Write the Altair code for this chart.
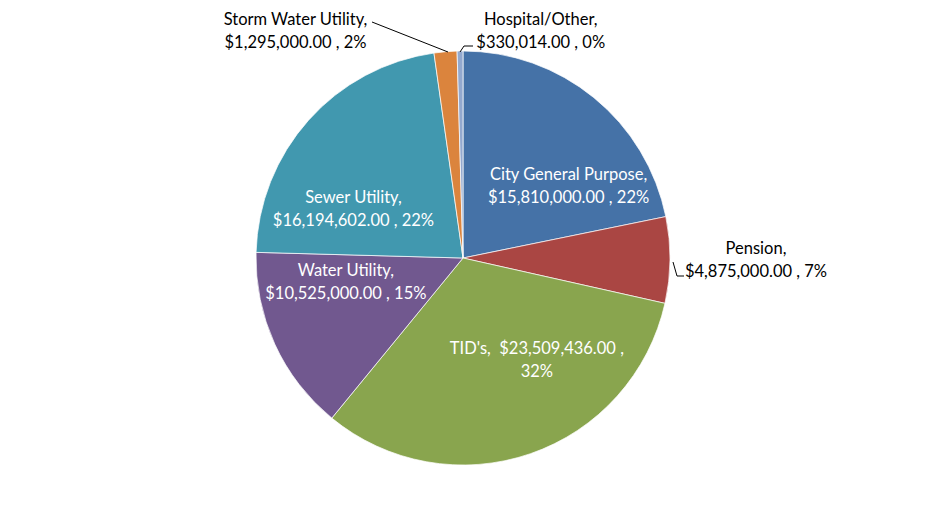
import altair as alt
import pandas as pd

categories = ["City General Purpose", "Pension", "TID's", "Water Utility",
              "Sewer Utility", "Storm Water Utility", "Hospital/Other"]
amounts = [15810000.00, 4875000.00, 23509436.00, 10525000.00,
           16194602.00, 1295000.00, 330014.00]
colors = ["#4572A7", "#AA4643", "#89A54E", "#71588F", "#4198AF", "#DB843D", "#93A9CF"]

total = sum(amounts)
labels = []
for c, v in zip(categories, amounts):
    pct = round(100 * v / total)
    if c == "TID's":
        labels.append(f"{c},\u00a0 ${v:,.2f} ,\n{pct}%")
    else:
        labels.append(f"{c},\n${v:,.2f} , {pct}%")

df = pd.DataFrame({"idx": range(len(categories)), "category": categories,
                   "amount": amounts, "label": labels})

FONT = "Lato"
base = alt.Chart(df).encode(
    theta=alt.Theta("amount:Q", stack=True),
    order=alt.Order("idx:Q"),
)

pie = base.mark_arc(radius=207, stroke="white", strokeWidth=0.7).encode(
    color=alt.Color("category:N", scale=alt.Scale(domain=categories, range=colors), legend=None)
)

# (index, radius, dx, dy, colour)
label_style = [
    (0, 110, 36, 2, "white"),
    (1, 293, 0, -12, "black"),
    (2, 110, 38, -13, "white"),
    (3, 120, -8, -37, "white"),
    (4, 120, -20, 20, "white"),
    (5, 230, -148, -9, "black"),
    (6, 228, 81, -10, "black"),
]

layers = [pie]
for i, r, dx, dy, col in label_style:
    layers.append(
        base.transform_calculate(t=f"datum.idx == {i} ? datum.label : ''")
        .mark_text(radius=r, dx=dx, dy=dy, font=FONT, fontSize=16.5, color=col,
                   lineBreak="\n", lineHeight=23, align="center", baseline="middle")
        .encode(text="t:N")
    )

# leader lines (page coords minus 8px margin)
leaders = [
    (364, 14, 440, 44),
    (452, 44, 456, 38), (456, 38, 465, 38),
    (665, 254, 669, 268), (669, 268, 676, 268),
]
for x1, y1, x2, y2 in leaders:
    layers.append(
        alt.Chart(df.head(1)).mark_rule(color="black", strokeWidth=1).encode(
            x=alt.value(x1), y=alt.value(y1), x2=alt.value(x2), y2=alt.value(y2))
    )

chart = alt.layer(*layers).properties(
    width=910, height=500, autosize="none", padding=0
).configure_view(stroke=None)

chart.save("out.html", embed_options={"renderer": "svg", "actions": False})
